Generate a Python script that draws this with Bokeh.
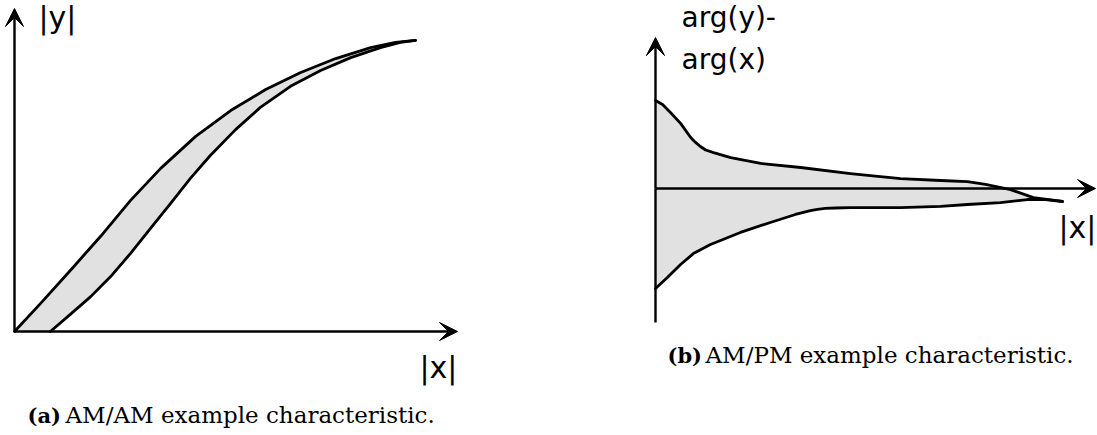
from bokeh.plotting import figure
from bokeh.layouts import row
from bokeh.models import Range1d, Arrow, VeeHead, Label
from bokeh.embed import file_html
from bokeh.resources import INLINE

# ---- AM/AM characteristic: band between two |y| vs |x| curves ----
amam_upper_x = [0.0, 5.9, 12.6, 19.4, 26.2, 33.0, 40.9, 48.8, 56.7, 64.6, 72.5,
                80.4, 86.0, 90.5]
amam_upper_y = [0.0, 8.7, 18.9, 29.4, 40.6, 50.5, 60.4, 68.4, 74.9, 80.2, 84.5,
                87.9, 89.5, 90.1]
amam_lower_x = [8.1, 12.6, 17.2, 21.7, 26.2, 30.7, 35.2, 39.7, 44.2, 49.9, 55.5,
                62.3, 69.1, 75.9, 82.6, 87.1, 90.5]
amam_lower_y = [0.0, 5.3, 10.8, 17.0, 24.2, 31.9, 39.6, 47.4, 54.5, 62.5, 69.4,
                75.9, 80.8, 84.8, 87.9, 89.5, 90.1]

# ---- AM/PM characteristic: band of phase deviation vs |x| ----
ampm_upper_x = [0.0, 1.6, 3.4, 5.7, 8.0, 9.1, 10.2, 11.4, 13.2, 17.1, 23.9, 33.0,
                44.3, 55.7, 64.8, 70.9, 75.0, 80.7, 85.9, 92.5]
ampm_upper_y = [58.3, 55.6, 50.3, 43.1, 33.8, 30.5, 27.8, 25.5, 23.8, 20.5, 16.6,
                13.9, 9.9, 6.6, 5.3, 4.6, 2.7, -0.7, -6.0, -8.6]
ampm_lower_x = [0.0, 2.7, 5.7, 8.6, 12.5, 19.3, 26.1, 31.8, 35.2, 36.8, 38.6,
                40.9, 44.3, 55.7, 64.8, 70.9, 78.4, 84.5, 88.6, 92.5]
ampm_lower_y = [-66.2, -58.9, -50.3, -43.1, -37.1, -29.1, -22.5, -17.2, -14.6,
                -13.8, -13.2, -12.9, -12.6, -12.6, -11.9, -10.6, -9.3, -7.3, -7.3,
                -8.6]

# axis extents (data units)
amam_axis_len = 100
ampm_axis_len = 100
ampm_axis_bottom = -88.7

labels_a = {"y": "|y|", "x": "|x|", "caption_tag": "(a)",
            "caption": "AM/AM example characteristic."}
labels_b = {"y1": "arg(y)-", "y2": "arg(x)", "x": "|x|", "caption_tag": "(b)",
            "caption": "AM/PM example characteristic."}

H = 435
FILL = "#e1e1e1"
SANS = "DejaVu Sans"
SERIF = "DejaVu Serif"


def base_figure(width, x_range, y_range):
    p = figure(width=width, height=H, x_range=x_range, y_range=y_range,
               output_backend="svg", toolbar_location=None,
               x_axis_location=None, y_axis_location=None, min_border=0)
    p.grid.visible = False
    p.outline_line_color = None
    p.background_fill_color = "white"
    p.border_fill_color = "white"
    return p


def arrow(p, x0, y0, x1, y1):
    p.add_layout(Arrow(end=VeeHead(size=18, fill_color="black", line_color="black",
                                   line_width=1),
                       x_start=x0, y_start=y0, x_end=x1, y_end=y1,
                       line_width=2.4, line_color="black"))


def label(p, x, y, text, font, size, style="normal"):
    # y is the intended baseline measured from the top of the panel
    px = float(size.replace("px", ""))
    p.add_layout(Label(x=x, y=H - y + 0.36 * px, x_units="screen", y_units="screen",
                       text=text, text_font=font, text_font_size=size,
                       text_font_style=style, text_color="black",
                       text_baseline="alphabetic"))


def band(p, ux, uy, lx, ly):
    p.patch(ux + lx[::-1], uy + ly[::-1], fill_color=FILL, line_color=None)


def curves(p, ux, uy, lx, ly):
    for xs, ys in ((ux, uy), (lx, ly)):
        p.line(xs, ys, line_color="black", line_width=2.8, line_join="round",
               line_cap="round")


# ---------------- panel (a) ----------------
WA = 548
ox_a, oy_a, sx_a, sy_a = 14, 331, 4.43, 3.23
pa = base_figure(WA,
                 Range1d(-ox_a / sx_a, (WA - ox_a) / sx_a),
                 Range1d(-(H - oy_a) / sy_a, oy_a / sy_a))
band(pa, amam_upper_x, amam_upper_y, amam_lower_x, amam_lower_y)
curves(pa, amam_upper_x, amam_upper_y, amam_lower_x, amam_lower_y)
arrow(pa, 0, 0, amam_axis_len, 0)
arrow(pa, 0, 0, 0, amam_axis_len)
label(pa, 38, 28, labels_a["y"], SANS, "30px")
label(pa, 419, 378, labels_a["x"], SANS, "30px")
label(pa, 27, 423, labels_a["caption_tag"], SERIF, "21px", "bold")
label(pa, 65, 423, labels_a["caption"], SERIF, "23px")

# ---------------- panel (b) ----------------
WB = 1097 - WA
ox_b, oy_b, sx_b, sy_b = 655 - WA, 188, 4.4, 1.51
pb = base_figure(WB,
                 Range1d(-ox_b / sx_b, (WB - ox_b) / sx_b),
                 Range1d(-(H - oy_b) / sy_b, oy_b / sy_b))
band(pb, ampm_upper_x, ampm_upper_y, ampm_lower_x, ampm_lower_y)
pb.line([0, 0], [ampm_axis_bottom, 0], line_color="black", line_width=2.4)
arrow(pb, 0, 0, ampm_axis_len, 0)
arrow(pb, 0, 0, 0, ampm_axis_len)
curves(pb, ampm_upper_x, ampm_upper_y, ampm_lower_x, ampm_lower_y)
label(pb, 683 - WA - 2, 27, labels_b["y1"], SANS, "28px")
label(pb, 683 - WA - 2, 69, labels_b["y2"], SANS, "28px")
label(pb, 1058 - WA, 238, labels_b["x"], SANS, "30px")
label(pb, 667 - WA, 363, labels_b["caption_tag"], SERIF, "21px", "bold")
label(pb, 705 - WA, 363, labels_b["caption"], SERIF, "23px")

layout = row(pa, pb, spacing=0)
open("out.html", "w").write(file_html(layout, INLINE))
